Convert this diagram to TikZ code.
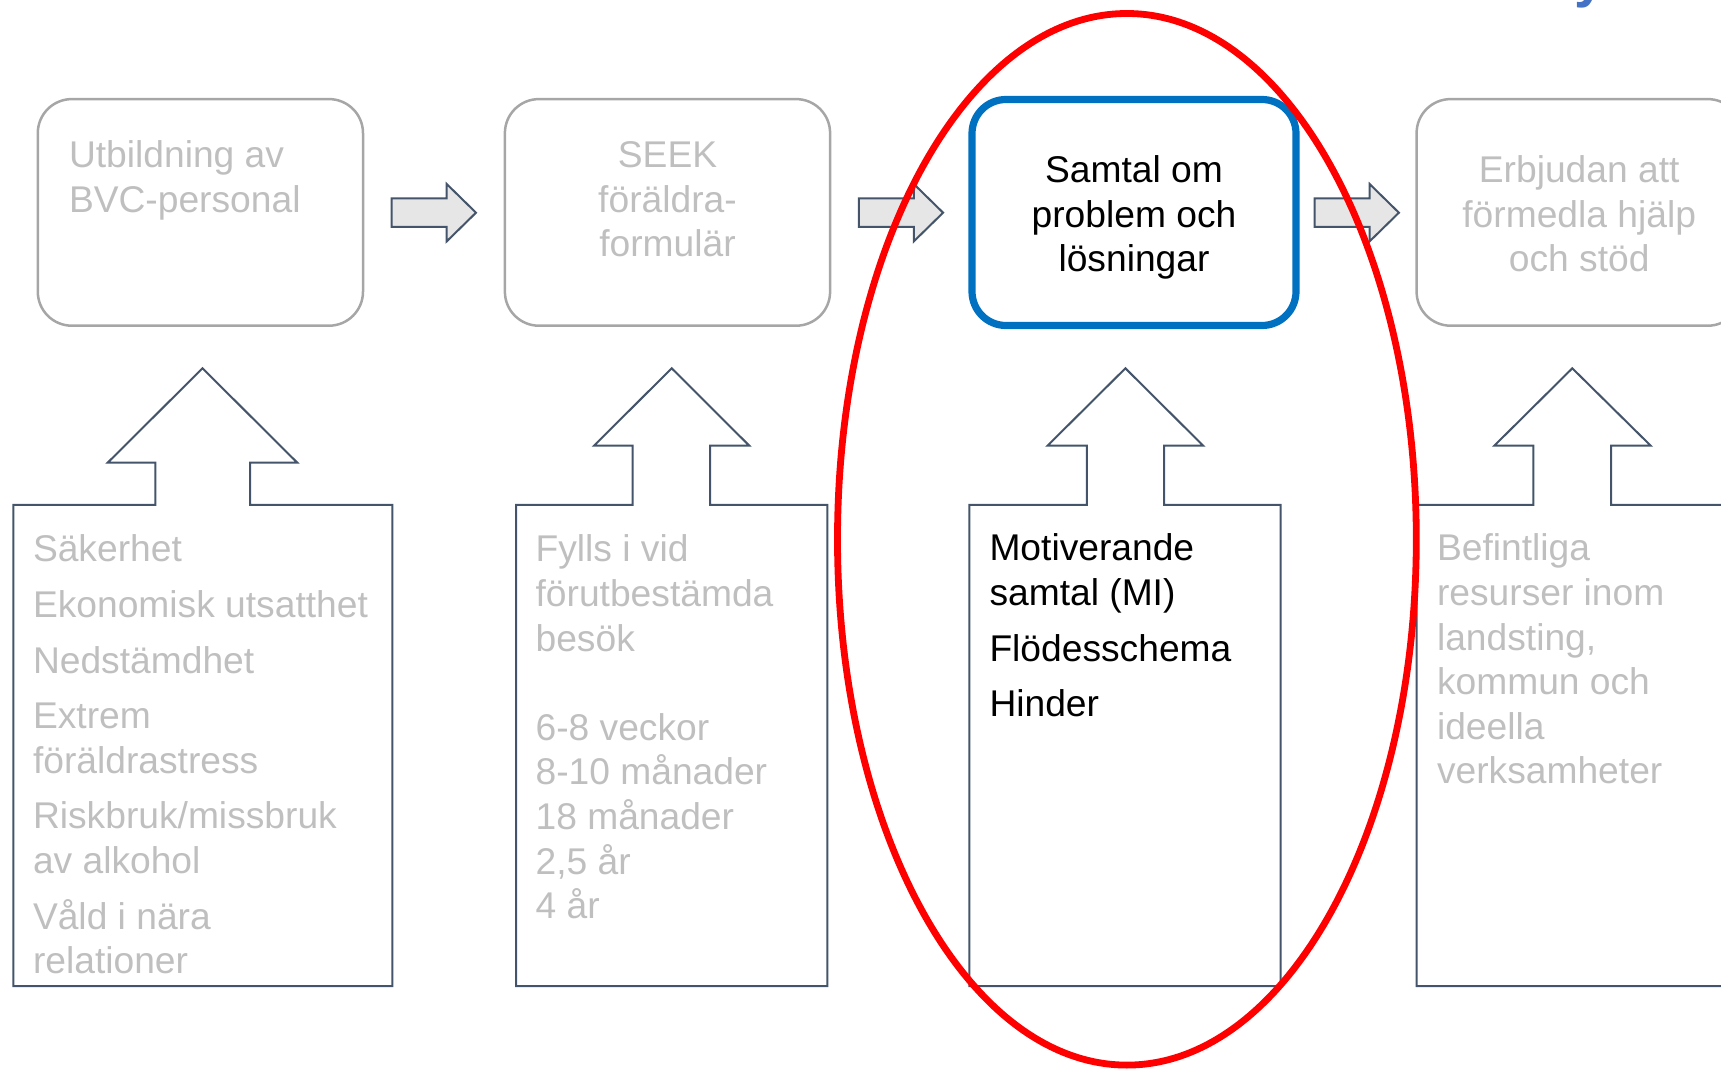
\documentclass[tikz,border=0pt]{standalone}
\usepackage{fontspec}
\setmainfont{Liberation Sans}
\definecolor{fadegray}{HTML}{BFBFBF}
\definecolor{framegray}{HTML}{A6A6A6}
\definecolor{slate}{HTML}{44546A}
\definecolor{arrowfill}{HTML}{E7E6E6}
\definecolor{focusblue}{HTML}{0070C0}
\definecolor{titleblue}{HTML}{4472C4}
\definecolor{markred}{HTML}{FF0000}
% rows of text whose baseline is the first row
\newcommand\textrows[2]{\begin{tabular}[t]{@{}#1@{}}#2\end{tabular}}
\begin{document}
\begin{tikzpicture}[x=0.5pt,y=-0.5pt,
  txt/.style={inner sep=0pt, outer sep=0pt, font=\fontsize{18.6}{22.3}\selectfont},
  faded/.style={txt, text=fadegray},
  plain/.style={txt, text=black},
  stepframe/.style={draw=framegray, line width=1.25pt, rounded corners=17pt,
    inner sep=0pt, minimum width=162.6pt, minimum height=113.3pt},
  focusframe/.style={stepframe, draw=focusblue, line width=3.6pt},
  inputframe/.style={draw=slate, line width=1pt, line join=miter},
  marker/.style={draw=markred, line width=3.4pt},
  flowarrow/.pic={
    \draw[draw=slate, fill=arrowfill, line width=1pt]
      (0,-14.2) -- (55,-14.2) -- (55,-28.7) -- (84.3,0) -- (55,28.7)
      -- (55,14.2) -- (0,14.2) -- cycle;
  }]
\useasboundingbox (0,0) rectangle (1721,1069);
\clip (0,0) rectangle (1721,1069);

% tail of the heading above
\node[anchor=base west, inner sep=0pt, text=titleblue,
  font=\fontsize{28}{30}\selectfont\bfseries] (headtail) at (1574,-3) {y};

% process steps
\node[stepframe] (s1) at (200.4,212.4) {};
\node[stepframe] (s2) at (667.5,212.4) {};
\node[focusframe, minimum width=162pt, minimum height=113pt] (s3) at (1134,212.5) {};
\node[stepframe] (s4) at (1579.2,212.4) {};

\node[faded, anchor=base west] (s1text) at (69,168)
  {\textrows{l}{Utbildning av\\BVC-personal}};
\node[faded, anchor=base] (s2text) at (667.5,167.5)
  {\textrows{c}{SEEK\\föräldra-\\formulär}};
\node[plain, anchor=base] (s3text) at (1134,182.5)
  {\textrows{c}{Samtal om\\problem och\\lösningar}};
\node[faded, anchor=base] (s4text) at (1579.2,182.5)
  {\textrows{c}{Erbjudan att\\förmedla hjälp\\och stöd}};

% arrows between the steps
\pic at (391.7,212.7) {flowarrow};
\pic at (858.8,212.7) {flowarrow};
\pic at (1314.6,212.7) {flowarrow};

% input panels, each with its upward arrow
\draw[inputframe] (13.3,505) -- (155.3,505) -- (155.3,462.7) -- (107.7,462.7)
  -- (202.5,368.3) -- (297.3,462.7) -- (250,462.7) -- (250,505)
  -- (392.3,505) -- (392.3,986) -- (13.3,986) -- cycle;
\draw[inputframe] (516,505) -- (632.7,505) -- (632.7,445.7) -- (594,445.7)
  -- (671.7,368.3) -- (749.3,445.7) -- (710,445.7) -- (710,505)
  -- (827.3,505) -- (827.3,986) -- (516,986) -- cycle;
\draw[inputframe] (969.3,505) -- (1086.8,505) -- (1086.8,445.7) -- (1047.5,445.7)
  -- (1125.4,368.3) -- (1203.2,445.7) -- (1164,445.7) -- (1164,505)
  -- (1280.7,505) -- (1280.7,986) -- (969.3,986) -- cycle;
\draw[inputframe] (1416.7,505) -- (1533.3,505) -- (1533.3,445.7) -- (1494.3,445.7)
  -- (1572.3,368.3) -- (1650.7,445.7) -- (1611,445.7) -- (1611,505)
  -- (1760,505) -- (1760,986) -- (1416.7,986) -- cycle;

\node[faded, anchor=base west] (in1text) at (33,562)
  {\textrows{l}{Säkerhet\\[5.5pt]Ekonomisk utsatthet\\[5.5pt]Nedstämdhet\\[5.5pt]%
   Extrem\\föräldrastress\\[5.5pt]Riskbruk/missbruk\\av alkohol\\[5.5pt]%
   Våld i nära\\relationer}};
\node[faded, anchor=base west] (in2text) at (535.6,562)
  {\textrows{l}{Fylls i vid\\förutbestämda\\besök\\ \\6-8 veckor\\8-10 månader\\%
   18 månader\\2,5 år\\4 år}};
\node[plain, anchor=base west] (in3text) at (989.5,561)
  {\textrows{l}{Motiverande\\samtal (MI)\\[5.5pt]Flödesschema\\[5.5pt]Hinder}};
\node[faded, anchor=base west] (in4text) at (1437,561)
  {\textrows{l}{Befintliga\\resurser inom\\landsting,\\kommun och\\ideella\\verksamheter}};

% highlight around the current step
\draw[marker] (1126.9,539.3) ellipse [x radius=144.7pt, y radius=262.9pt];
\end{tikzpicture}
\end{document}
